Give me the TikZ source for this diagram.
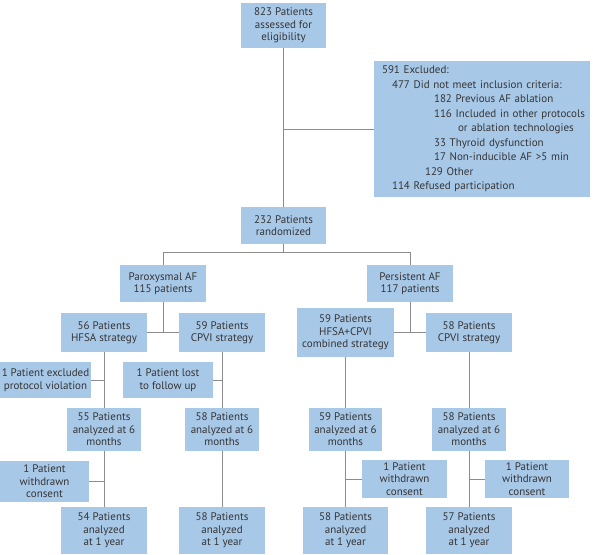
\documentclass[tikz,border=0pt]{standalone}
\usepackage{fontspec}
\setmainfont{PT Sans}
\usetikzlibrary{positioning}
\definecolor{BoxBlue}{HTML}{A8C8E8}
\definecolor{TextGray}{HTML}{353535}
\definecolor{LineGray}{HTML}{8C8C8C}

\begin{document}
\begin{tikzpicture}[x=1pt,y=-1pt,
  box/.style={rectangle,fill=BoxBlue,text=TextGray,align=center,inner sep=1pt,
              font=\fontsize{11}{12.5}\selectfont},
  link/.style={draw=LineGray,line width=0.9pt}
]
  \useasboundingbox (0,0) rectangle (593,554);
  % enrolment
  \node[box,minimum width=85pt,minimum height=45pt] (screen) at (283.5,25.5)
    {823 Patients\\assessed for\\eligibility};
  \node[box,minimum width=216pt,minimum height=136pt,text width=212pt,align=left,
        inner xsep=2pt,font=\fontsize{11}{14.5}\selectfont] (excl) at (482,129) {
    \hspace*{6pt}591 Excluded:\\
    \hspace*{16pt}477 Did not meet inclusion criteria:\\
    \hspace*{58pt}182 Previous AF ablation\\
    \hspace*{58pt}116 Included in other protocols\\
    \hspace*{82pt}or ablation technologies\\
    \hspace*{58pt}33 Thyroid dysfunction\\
    \hspace*{58pt}17 Non-inducible AF >5 min\\
    \hspace*{49pt}129 Other\\
    \hspace*{16pt}114 Refused participation
  };
  \node[box,minimum width=85pt,minimum height=37pt] (rand) at (283.5,225.5)
    {232 Patients\\randomized};
  % AF type
  \node[box,minimum width=86pt,minimum height=37pt] (parox) at (163,283.5)
    {Paroxysmal AF\\115 patients};
  \node[box,minimum width=86pt,minimum height=37pt] (pers) at (410,283.5)
    {Persistent AF\\117 patients};
  % strategies
  \node[box,minimum width=86pt,minimum height=39pt] (hfsaP) at (104,332.5)
    {56 Patients\\HFSA strategy};
  \node[box,minimum width=86pt,minimum height=39pt] (cpviP) at (222,332.5)
    {59 Patients\\CPVI strategy};
  \node[box,minimum width=97pt,minimum height=49pt] (comb) at (345.5,332.5)
    {59 Patients\\HFSA+CPVI\\combined strategy};
  \node[box,minimum width=86pt,minimum height=39pt] (cpviR) at (469,332.5)
    {58 Patients\\CPVI strategy};
  % losses before 6 months
  \node[box,minimum width=91pt,minimum height=36pt] (exclP) at (45.5,380)
    {1 Patient excluded\\protocol violation};
  \node[box,minimum width=90pt,minimum height=36pt] (lostP) at (168,380)
    {1 Patient lost\\to follow up};
  % 6 months
  \node[box,minimum width=74pt,minimum height=43pt] (sixA) at (104,429.5)
    {55 Patients\\analyzed at 6\\months};
  \node[box,minimum width=74pt,minimum height=43pt] (sixB) at (222,429.5)
    {58 Patients\\analyzed at 6\\months};
  \node[box,minimum width=73pt,minimum height=43pt] (sixC) at (345.5,429.5)
    {59 Patients\\analyzed at 6\\months};
  \node[box,minimum width=74pt,minimum height=43pt] (sixD) at (469,429.5)
    {58 Patients\\analyzed at 6\\months};
  % withdrawals
  \node[box,minimum width=89pt,minimum height=41pt] (wdA) at (44.5,481.5)
    {1 Patient\\withdrawn\\consent};
  \node[box,minimum width=85pt,minimum height=38pt] (wdC) at (404.5,479)
    {1 Patient\\withdrawn\\consent};
  \node[box,minimum width=84pt,minimum height=38pt] (wdD) at (527,479)
    {1 Patient\\withdrawn\\consent};
  % 1 year
  \node[box,minimum width=86pt,minimum height=47pt] (yrA) at (104,530.5)
    {54 Patients\\analyzed\\at 1 year};
  \node[box,minimum width=86pt,minimum height=47pt] (yrB) at (222,530.5)
    {58 Patients\\analyzed\\at 1 year};
  \node[box,minimum width=85pt,minimum height=47pt] (yrC) at (345.5,530.5)
    {58 Patients\\analyzed\\at 1 year};
  \node[box,minimum width=86pt,minimum height=47pt] (yrD) at (469,530.5)
    {57 Patients\\analyzed\\at 1 year};

  \draw[link] (screen) -- (rand);
  \draw[link] (excl.west) -- (excl.west -| screen.south);
  \draw[link] (rand.south) -- ++(0,8.5) -| (parox.north);
  \draw[link] (rand.south) -- ++(0,8.5) -| (pers.north);
  \draw[link] (parox.south) -- (parox.south |- hfsaP.east);
  \draw[link] (hfsaP.east) -- (cpviP.west);
  \draw[link] (pers.south) -- (pers.south |- comb.east);
  \draw[link] (comb.east) -- (cpviR.west);
  \draw[link] (hfsaP) -- (sixA);
  \draw[link] (exclP.east) -- (exclP.east -| hfsaP.south);
  \draw[link] (cpviP) -- (sixB);
  \draw[link] (lostP.east) -- (lostP.east -| cpviP.south);
  \draw[link] (comb) -- (sixC);
  \draw[link] (cpviR) -- (sixD);
  \draw[link] (sixA) -- (yrA);
  \draw[link] (wdA.east) -- (wdA.east -| sixA.south);
  \draw[link] (sixB) -- (yrB);
  \draw[link] (sixC) -- (yrC);
  \draw[link] (wdC.west) -- (wdC.west -| sixC.south);
  \draw[link] (sixD) -- (yrD);
  \draw[link] (wdD.west) -- (wdD.west -| sixD.south);
\end{tikzpicture}
\end{document}
